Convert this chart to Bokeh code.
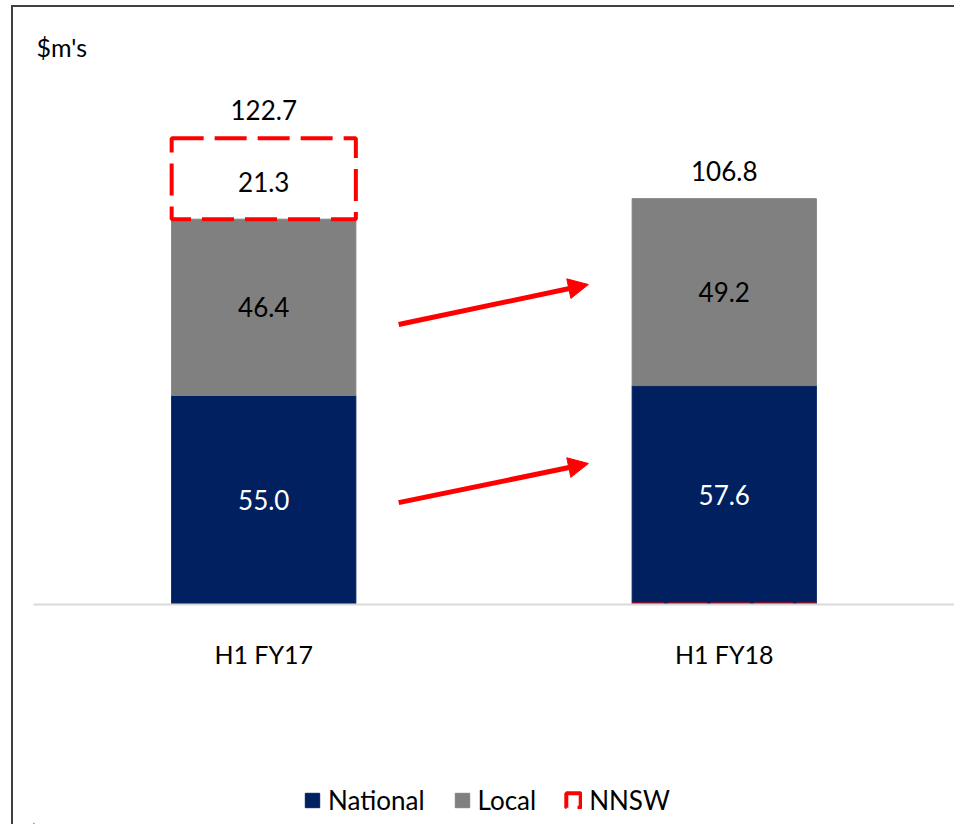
from bokeh.plotting import figure
from bokeh.layouts import column
from bokeh.models import (ColumnDataSource, LabelSet, Label, Legend, LegendItem,
                          Arrow, NormalHead, Range1d, FactorRange)
from bokeh.core.properties import value
from bokeh.embed import file_html
from bokeh.resources import INLINE

# ---- data ----
categories = ["H1 FY17", "H1 FY18"]
series_names = ["National", "Local", "NNSW"]
national = [55.0, 57.6]
local = [46.4, 49.2]
nnsw = [21.3, 0.0]
totals = [122.7, 106.8]
unit_label = "$m's"

NAVY = "#002060"
GREY = "#808080"
RED = "#FF0000"
FONT = "Lato"

local_bottom = national
local_top = [n + l for n, l in zip(national, local)]
nnsw_bottom = [t if v > 0 else 0 for t, v in zip(local_top, nnsw)]
nnsw_top = [b + v for b, v in zip(nnsw_bottom, nnsw)]

src = ColumnDataSource(dict(
    cat=categories, national=national, local_b=local_bottom, local_t=local_top,
    nnsw_b=nnsw_bottom, nnsw_t=nnsw_top,
))

px_per_unit = 3.8
baseline_px = 604
ymax = baseline_px / px_per_unit

p = figure(x_range=FactorRange(*categories), y_range=Range1d(0, ymax),
           frame_width=921, frame_height=604,
           output_backend="svg", toolbar_location=None,
           min_border_left=33, min_border_right=0, min_border_top=0,
           min_border_bottom=170)
p.outline_line_color = None
p.xgrid.grid_line_color = None
p.ygrid.grid_line_color = None
p.yaxis.visible = False
p.background_fill_color = None
p.border_fill_color = None

BW = 0.40
bar_styles = [dict(fill_color=NAVY, line_color=NAVY),
              dict(fill_color=GREY, line_color=GREY),
              dict(fill_color=None, line_color=RED, line_width=4, line_dash="32 11")]

p.vbar(x="cat", bottom=0, top="national", width=BW, source=src, **bar_styles[0])
p.vbar(x="cat", bottom="local_b", top="local_t", width=BW, source=src, **bar_styles[1])
p.vbar(x="cat", bottom="nnsw_b", top="nnsw_t", width=BW, source=src, **bar_styles[2])

xa = p.xaxis[0]
xa.axis_line_color = "#d9d9d9"
xa.axis_line_width = 2
xa.major_tick_line_color = None
xa.minor_tick_line_color = None
xa.major_label_text_font = FONT
xa.major_label_text_font_size = "25px"
xa.major_label_text_color = "black"
xa.major_label_standoff = 28

# ---- segment labels ----
def mids(b, t):
    return [(x + y) / 2 for x, y in zip(b, t)]

lab_nat = ColumnDataSource(dict(x=categories, y=mids([0, 0], national),
                                t=[f"{v:.1f}" for v in national]))
lab_loc = ColumnDataSource(dict(x=categories, y=mids(local_bottom, local_top),
                                t=[f"{v:.1f}" for v in local]))
nn_idx = [i for i, v in enumerate(nnsw) if v > 0]
lab_nn = ColumnDataSource(dict(x=[categories[i] for i in nn_idx],
                               y=[(nnsw_bottom[i] + nnsw_top[i]) / 2 for i in nn_idx],
                               t=[f"{nnsw[i]:.1f}" for i in nn_idx]))
lab_tot = ColumnDataSource(dict(x=categories, y=totals,
                                t=[f"{v:.1f}" for v in totals]))

for s, col, off in [(lab_nat, "white", 0), (lab_loc, "black", 0),
                    (lab_nn, "black", -3), (lab_tot, "black", 28)]:
    p.add_layout(LabelSet(x="x", y="y", text="t", source=s, text_align="center",
                          text_baseline="middle", text_color=col, y_offset=off,
                          text_font=value(FONT), text_font_size="26px"))

# ---- unit label ----
p.add_layout(Label(x=0.0065, y=(baseline_px - 46) / px_per_unit, text=unit_label,
                   text_baseline="middle", text_align="left", text_font=FONT,
                   text_font_size="25px", text_color="black"))

# ---- arrows (annotation) ----
arrows = [((0.793, 73.7), (1.205, 84.2)), ((0.793, 26.8), (1.205, 37.1))]
for (x0, y0), (x1, y1) in arrows:
    p.add_layout(Arrow(x_start=x0, y_start=y0, x_end=x1, y_end=y1,
                       line_color=RED, line_width=5,
                       end=NormalHead(size=20, fill_color=RED, line_color=RED)))

# ---- legend strip (separate small figure below the chart) ----
lg = figure(width=954, height=50, x_range=Range1d(0, 1), y_range=Range1d(0, 1),
            output_backend="svg", toolbar_location=None,
            min_border=0, min_border_left=0, min_border_right=0,
            min_border_top=0, min_border_bottom=0)
lg.axis.visible = False
lg.grid.visible = False
lg.outline_line_color = None
lg.background_fill_color = None
lg.border_fill_color = None
# key renderers: real glyphs placed outside the visible range, used only for the legend keys
key_renderers = [lg.vbar(x=[-10], bottom=[-10], top=[-9], width=0.1, **st)
                 for st in bar_styles]
legend = Legend(items=[LegendItem(label=n, renderers=[r])
                       for n, r in zip(series_names, key_renderers)],
                orientation="horizontal", location=(270, 8),
                label_text_font=FONT, label_text_font_size="26px",
                label_text_color="black",
                glyph_width=18, glyph_height=18, label_standoff=7, spacing=28,
                border_line_color=None, background_fill_alpha=0,
                margin=0, padding=0)
lg.add_layout(legend)

layout = column(p, lg, spacing=0)
# chart border: top and left edges as in the reference
layout.styles = {
    "background-color": "white",
    "background-image": "linear-gradient(#404040,#404040), linear-gradient(#404040,#404040)",
    "background-size": "2px 100%, 100% 2px",
    "background-position": "11px 5px, 11px 5px",
    "background-repeat": "no-repeat",
}

open("out.html", "w").write(file_html(layout, INLINE))
